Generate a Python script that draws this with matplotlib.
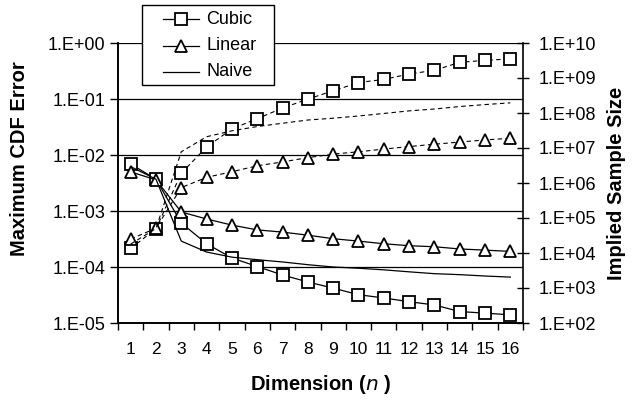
import matplotlib
matplotlib.use("Agg")
import matplotlib.pyplot as plt
from matplotlib.lines import Line2D
from matplotlib.patches import Rectangle
from matplotlib.ticker import FixedLocator, FuncFormatter, NullFormatter

plt.rcParams['font.family'] = ['Liberation Sans', 'DejaVu Sans']

# Données
dims = list(range(1, 17))

err_cubic = [6.9e-3, 3.7e-3, 6.1e-4, 2.6e-4, 1.45e-4, 1.02e-4, 7.2e-5, 5.4e-5,
             4.2e-5, 3.2e-5, 2.8e-5, 2.4e-5, 2.1e-5, 1.6e-5, 1.5e-5, 1.4e-5]
err_linear = [5.0e-3, 3.6e-3, 9.6e-4, 7.2e-4, 5.6e-4, 4.6e-4, 4.2e-4, 3.7e-4,
              3.2e-4, 2.9e-4, 2.6e-4, 2.4e-4, 2.3e-4, 2.1e-4, 2.0e-4, 1.9e-4]
err_naive = [6.2e-3, 3.7e-3, 2.9e-4, 1.85e-4, 1.5e-4, 1.35e-4, 1.23e-4, 1.1e-4,
             1.0e-4, 9.5e-5, 8.9e-5, 8.2e-5, 7.6e-5, 7.3e-5, 6.9e-5, 6.6e-5]

n_cubic = [1.35e4, 4.9e4, 1.9e6, 1.07e7, 3.5e7, 6.9e7, 1.38e8, 2.5e8,
           4.3e8, 7.4e8, 9.1e8, 1.3e9, 1.66e9, 2.8e9, 3.2e9, 3.5e9]
n_linear = [2.5e4, 5.1e4, 7.4e5, 1.45e6, 2.1e6, 3.1e6, 4.0e6, 5.3e6,
            6.7e6, 7.8e6, 9.3e6, 1.1e7, 1.28e7, 1.48e7, 1.7e7, 1.9e7]
n_naive = [1.8e4, 5.0e4, 7.8e6, 2.1e7, 3.1e7, 4.1e7, 5.1e7, 6.3e7,
           7.1e7, 8.2e7, 9.7e7, 1.15e8, 1.3e8, 1.53e8, 1.74e8, 1.95e8]

series_names = ["Cubic", "Linear", "Naive"]
series_markers = ["s", "^", None]

left_ticks = [1e-5, 1e-4, 1e-3, 1e-2, 1e-1, 1e0]
right_ticks = [1e2, 1e3, 1e4, 1e5, 1e6, 1e7, 1e8, 1e9, 1e10]


def excel_fmt(v, pos):
    s = "%.0E" % v          # ex: 1E-05
    mant, exp = s.split("E")
    return "%s.E%s" % (mant, exp)


W, H = 643, 400
fig = plt.figure(figsize=(W / 100, H / 100), dpi=100)
ax = fig.add_axes([118 / W, 1 - 323 / H, 405 / W, 280 / H])
ax2 = ax.twinx()

mk = dict(markersize=8, markerfacecolor="white", markeredgecolor="black",
          markeredgewidth=1.3, color="black")
dash = (0, (4, 3))

# erreurs (axe gauche, traits pleins)
for vals, m in zip([err_cubic, err_linear, err_naive], series_markers):
    if m:
        ax.plot(dims, vals, marker=m, lw=0.9, zorder=3, **mk)
    else:
        ax.plot(dims, vals, color="black", lw=0.9, zorder=3)

# taille d'échantillon (axe droit, pointillés)
for vals, m in zip([n_cubic, n_linear, n_naive], series_markers):
    if m:
        ax2.plot(dims, vals, marker=m, lw=0.8, linestyle=dash, **mk)
    else:
        ax2.plot(dims, vals, color="black", lw=0.8, linestyle=dash)

ax.set_yscale("log")
ax.set_ylim(1e-5, 1e0)
ax.set_xlim(0.5, 16.5)
ax.yaxis.set_major_locator(FixedLocator(left_ticks))
ax.yaxis.set_major_formatter(FuncFormatter(excel_fmt))
ax.yaxis.set_minor_formatter(NullFormatter())
ax.tick_params(axis="y", which="minor", length=0)
ax.tick_params(axis="y", which="major", direction="out", length=6, width=1,
               labelsize=13, pad=3)
for v in left_ticks:
    ax.axhline(v, color="black", lw=0.9, zorder=1)

ax.set_xticks(dims)
ax.set_xticks([d + 0.5 for d in range(0, 17)], minor=True)
ax.tick_params(axis="x", which="major", length=0, labelsize=12.5, pad=14)
ax.tick_params(axis="x", which="minor", direction="out", length=5, width=1)

ax2.set_yscale("log")
ax2.set_ylim(1e2, 1e10)
ax2.yaxis.set_major_locator(FixedLocator(right_ticks))
ax2.yaxis.set_major_formatter(FuncFormatter(excel_fmt))
ax2.yaxis.set_minor_formatter(NullFormatter())
ax2.tick_params(axis="y", which="minor", length=0)
ax2.tick_params(axis="y", which="major", direction="inout", length=8, width=1,
                labelsize=13, pad=7)

for a in (ax, ax2):
    a.spines["top"].set_visible(False)
    for s in ("left", "right", "bottom"):
        a.spines[s].set_linewidth(1.2)
ax.spines["right"].set_visible(False)

ax.set_ylabel("Maximum CDF Error", fontsize=14.5, fontweight="bold")
ax.yaxis.set_label_coords(-0.22, 0.586)
ax2.set_ylabel("Implied Sample Size", fontsize=14.5, fontweight="bold", labelpad=8)
ax.set_xlabel(r"Dimension ($\bf{\it{n}}$ )", fontsize=14.5, fontweight="bold", labelpad=11)

# légende dessinée à la main (cadre au-dessus du graphique)
box = Rectangle((142 / W, 1 - 85 / H), 132 / W, 80 / H, transform=fig.transFigure,
                facecolor="white", edgecolor="black", lw=1.0, zorder=10)
fig.patches.append(box)
for i, (name, m) in enumerate(zip(series_names, series_markers)):
    yy = 1 - (19 + 26.5 * i) / H
    fig.lines.append(Line2D([163 / W, 199 / W], [yy, yy], transform=fig.transFigure,
                            color="black", lw=0.9, zorder=11))
    if m:
        fig.lines.append(Line2D([181 / W], [yy], transform=fig.transFigure,
                                marker=m, lw=0, zorder=12, **mk))
    fig.text(206 / W, yy, name, fontsize=13, va="center", ha="left", zorder=13)

fig.savefig("out.png", dpi=100, facecolor="white")
